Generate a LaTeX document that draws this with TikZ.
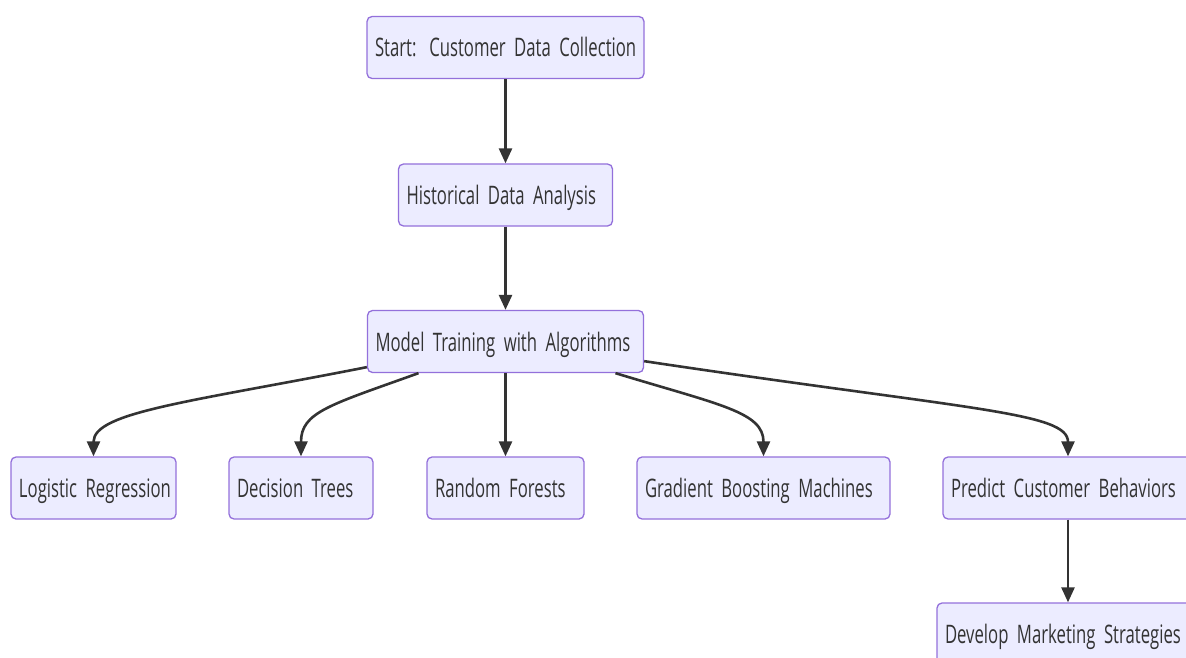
\documentclass[tikz,border=0pt]{standalone}
\usepackage{fontspec}
\newfontfamily\nodefont{Open Sans}[FakeStretch=0.655]
\usetikzlibrary{arrows.meta}
\definecolor{nodefill}{HTML}{ECECFF}
\definecolor{nodeborder}{HTML}{9370DB}
\definecolor{ink}{HTML}{333333}
\DeclareRobustCommand\boxfont{\nodefont\fontsize{25.5}{30}\selectfont\fontdimen2\font=3.5pt\relax}
\tikzset{
  box/.style={draw=nodeborder, fill=nodefill, line width=1.3pt, rounded corners=5pt,
    minimum height=62pt, inner xsep=8pt, inner ysep=0pt, align=left,
    text height=19pt, text depth=0pt,
    text=ink, font=\boxfont},
  edge/.style={draw=ink, line width=2.6pt, -{Triangle[length=15pt,width=13pt]}}
}
\begin{document}
\begin{tikzpicture}[x=1pt,y=-1pt]
\useasboundingbox (0,0) rectangle (1186,658);
\node[box, text width=261pt] (start) at (505.5,47.5) {\mbox{Start: Customer Data Collection}};
\node[box, text width=198pt] (hist) at (505.5,195) {\mbox{Historical Data Analysis}};
\node[box, text width=260pt] (model) at (505.5,341.5) {\mbox{Model Training with Algorithms}};
\node[box, text width=149pt] (logit) at (93.5,488) {\mbox{Logistic Regression}};
\node[box, text width=128pt] (dtree) at (301,488) {\mbox{Decision Trees}};
\node[box, text width=141pt] (rforest) at (505.5,488) {\mbox{Random Forests}};
\node[box, text width=237pt] (gbm) at (763.5,488) {\mbox{Gradient Boosting Machines}};
\node[box, text width=234pt] (predict) at (1068,488) {\mbox{Predict Customer Behaviors}};
\node[box, text width=246pt] (develop) at (1068,634) {\mbox{Develop Marketing Strategies}};

\draw[edge] (start.south) -- (hist.north);
\draw[edge] (hist.south) -- (model.north);
\draw[edge] (model.south) -- (rforest.north);
\draw[edge] ([yshift=6pt]model.south west) .. controls (190,402) and (93.5,412) .. (logit.north);
\draw[edge] ([xshift=-87pt]model.south) .. controls (330,405) and (301,412) .. (dtree.north);
\draw[edge] ([xshift=110pt]model.south) .. controls (720,405) and (763.5,412) .. (gbm.north);
\draw[edge] ([yshift=12pt]model.south east) .. controls (970,410) and (1068,412) .. (predict.north);
\draw[edge] (predict.south) -- (develop.north);
\end{tikzpicture}
\end{document}
